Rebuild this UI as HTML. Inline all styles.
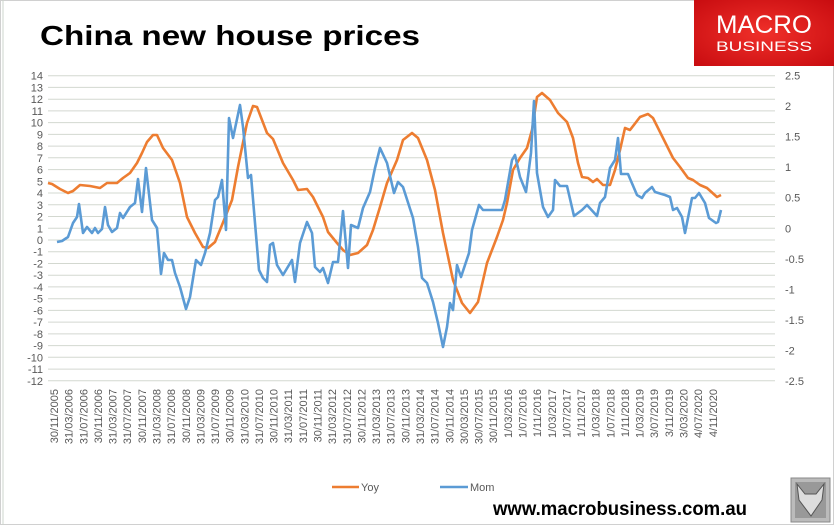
<!DOCTYPE html>
<html><head><meta charset="utf-8"><style>
html,body{margin:0;padding:0;background:#fff}
svg{display:block;font-family:"Liberation Sans",sans-serif}
</style></head><body>
<svg width="834" height="525" viewBox="0 0 834 525" xmlns="http://www.w3.org/2000/svg">
<rect x="0.5" y="0.5" width="833" height="524" fill="#fff" stroke="#d0d0d0"/>
<line x1="3" y1="0" x2="3" y2="525" stroke="#ccd4cc"/>
<text x="40" y="45" font-size="28" font-weight="bold" fill="#000" textLength="380" lengthAdjust="spacingAndGlyphs">China new house prices</text>
<defs><radialGradient id="rg" cx="50%" cy="50%" r="70%"><stop offset="0" stop-color="#f0302a"/><stop offset="1" stop-color="#c80c10"/></radialGradient></defs>
<rect x="694" y="0" width="140" height="66" fill="url(#rg)"/>
<text x="764" y="33" font-size="25" fill="#fff" text-anchor="middle" textLength="96" lengthAdjust="spacingAndGlyphs">MACRO</text>
<text x="764" y="51" font-size="14" fill="#fff" text-anchor="middle" textLength="96" lengthAdjust="spacingAndGlyphs">BUSINESS</text>
<g stroke="#d3d8d0" stroke-width="1">
<line x1="48" x2="775" y1="75.7" y2="75.7"/><line x1="48" x2="775" y1="87.4" y2="87.4"/><line x1="48" x2="775" y1="99.2" y2="99.2"/><line x1="48" x2="775" y1="110.9" y2="110.9"/><line x1="48" x2="775" y1="122.6" y2="122.6"/><line x1="48" x2="775" y1="134.4" y2="134.4"/><line x1="48" x2="775" y1="146.1" y2="146.1"/><line x1="48" x2="775" y1="157.8" y2="157.8"/><line x1="48" x2="775" y1="169.6" y2="169.6"/><line x1="48" x2="775" y1="181.3" y2="181.3"/><line x1="48" x2="775" y1="193" y2="193"/><line x1="48" x2="775" y1="204.8" y2="204.8"/><line x1="48" x2="775" y1="216.5" y2="216.5"/><line x1="48" x2="775" y1="228.3" y2="228.3"/><line x1="48" x2="775" y1="240" y2="240"/><line x1="48" x2="775" y1="251.7" y2="251.7"/><line x1="48" x2="775" y1="263.5" y2="263.5"/><line x1="48" x2="775" y1="275.2" y2="275.2"/><line x1="48" x2="775" y1="286.9" y2="286.9"/><line x1="48" x2="775" y1="298.7" y2="298.7"/><line x1="48" x2="775" y1="310.4" y2="310.4"/><line x1="48" x2="775" y1="322.1" y2="322.1"/><line x1="48" x2="775" y1="333.9" y2="333.9"/><line x1="48" x2="775" y1="345.6" y2="345.6"/><line x1="48" x2="775" y1="357.3" y2="357.3"/><line x1="48" x2="775" y1="369.1" y2="369.1"/><line x1="48" x2="775" y1="380.8" y2="380.8"/>
</g>
<g font-size="11" fill="#595959" text-anchor="end">
<text x="43" y="79.7">14</text><text x="43" y="91.4">13</text><text x="43" y="103.2">12</text><text x="43" y="114.9">11</text><text x="43" y="126.6">10</text><text x="43" y="138.4">9</text><text x="43" y="150.1">8</text><text x="43" y="161.8">7</text><text x="43" y="173.6">6</text><text x="43" y="185.3">5</text><text x="43" y="197">4</text><text x="43" y="208.8">3</text><text x="43" y="220.5">2</text><text x="43" y="232.3">1</text><text x="43" y="244">0</text><text x="43" y="255.7">-1</text><text x="43" y="267.5">-2</text><text x="43" y="279.2">-3</text><text x="43" y="290.9">-4</text><text x="43" y="302.7">-5</text><text x="43" y="314.4">-6</text><text x="43" y="326.1">-7</text><text x="43" y="337.9">-8</text><text x="43" y="349.6">-9</text><text x="43" y="361.3">-10</text><text x="43" y="373.1">-11</text><text x="43" y="384.8">-12</text>
</g>
<g font-size="11" fill="#595959" text-anchor="start">
<text x="785" y="79.7">2.5</text><text x="785" y="110.2">2</text><text x="785" y="140.7">1.5</text><text x="785" y="171.2">1</text><text x="785" y="201.7">0.5</text><text x="785" y="232.3">0</text><text x="785" y="262.8">-0.5</text><text x="785" y="293.3">-1</text><text x="785" y="323.8">-1.5</text><text x="785" y="354.3">-2</text><text x="785" y="384.8">-2.5</text>
</g>
<g font-size="11" fill="#595959" text-anchor="end">
<text transform="translate(58,389) rotate(-90)">30/11/2005</text>
<text transform="translate(72.6,389) rotate(-90)">31/03/2006</text>
<text transform="translate(87.3,389) rotate(-90)">31/07/2006</text>
<text transform="translate(101.9,389) rotate(-90)">30/11/2006</text>
<text transform="translate(116.6,389) rotate(-90)">31/03/2007</text>
<text transform="translate(131.2,389) rotate(-90)">31/07/2007</text>
<text transform="translate(145.8,389) rotate(-90)">30/11/2007</text>
<text transform="translate(160.5,389) rotate(-90)">31/03/2008</text>
<text transform="translate(175.1,389) rotate(-90)">31/07/2008</text>
<text transform="translate(189.8,389) rotate(-90)">30/11/2008</text>
<text transform="translate(204.4,389) rotate(-90)">31/03/2009</text>
<text transform="translate(219,389) rotate(-90)">31/07/2009</text>
<text transform="translate(233.7,389) rotate(-90)">30/11/2009</text>
<text transform="translate(248.3,389) rotate(-90)">31/03/2010</text>
<text transform="translate(263,389) rotate(-90)">31/07/2010</text>
<text transform="translate(277.6,389) rotate(-90)">30/11/2010</text>
<text transform="translate(292.2,389) rotate(-90)">31/03/2011</text>
<text transform="translate(306.9,389) rotate(-90)">31/07/2011</text>
<text transform="translate(321.5,389) rotate(-90)">30/11/2011</text>
<text transform="translate(336.2,389) rotate(-90)">31/03/2012</text>
<text transform="translate(350.8,389) rotate(-90)">31/07/2012</text>
<text transform="translate(365.4,389) rotate(-90)">30/11/2012</text>
<text transform="translate(380.1,389) rotate(-90)">31/03/2013</text>
<text transform="translate(394.7,389) rotate(-90)">31/07/2013</text>
<text transform="translate(409.4,389) rotate(-90)">30/11/2013</text>
<text transform="translate(424,389) rotate(-90)">31/03/2014</text>
<text transform="translate(438.6,389) rotate(-90)">31/07/2014</text>
<text transform="translate(453.3,389) rotate(-90)">30/11/2014</text>
<text transform="translate(467.9,389) rotate(-90)">30/03/2015</text>
<text transform="translate(482.6,389) rotate(-90)">30/07/2015</text>
<text transform="translate(497.2,389) rotate(-90)">30/11/2015</text>
<text transform="translate(511.8,389) rotate(-90)">1/03/2016</text>
<text transform="translate(526.5,389) rotate(-90)">1/07/2016</text>
<text transform="translate(541.1,389) rotate(-90)">1/11/2016</text>
<text transform="translate(555.8,389) rotate(-90)">1/03/2017</text>
<text transform="translate(570.4,389) rotate(-90)">1/07/2017</text>
<text transform="translate(585,389) rotate(-90)">1/11/2017</text>
<text transform="translate(599.7,389) rotate(-90)">1/03/2018</text>
<text transform="translate(614.3,389) rotate(-90)">1/07/2018</text>
<text transform="translate(629,389) rotate(-90)">1/11/2018</text>
<text transform="translate(643.6,389) rotate(-90)">1/03/2019</text>
<text transform="translate(658.2,389) rotate(-90)">3/07/2019</text>
<text transform="translate(672.9,389) rotate(-90)">3/11/2019</text>
<text transform="translate(687.5,389) rotate(-90)">3/03/2020</text>
<text transform="translate(702.2,389) rotate(-90)">4/07/2020</text>
<text transform="translate(716.8,389) rotate(-90)">4/11/2020</text>
</g>
<polyline fill="none" stroke="#ed7d31" stroke-width="2.6" stroke-linejoin="round" points="48,183 52,184 60,189 68,193 73,191 80,185 90,186 100,188 107,183 117,183 123,178 130,173 137,163 142,153 147,142 153,135 157,135 163,148 172,160 180,183 187,217 195,233 203,247 208,248 215,242 222,225 232,200 238,167 247,123 253,106 257,107 267,133 273,139 283,163 293,180 298,190 307,189 313,197 323,217 328,232 337,243 343,250 350,255 358,253 367,245 373,230 380,207 387,183 397,160 403,140 412,133 418,138 427,160 435,190 443,233 453,280 462,303 470,313 478,302 487,263 497,237 503,220 507,203 513,170 520,158 527,148 532,130 537,97 542,93 550,100 558,113 567,122 573,138 578,163 582,177 588,178 593,182 597,179 603,185 610,185 615,170 620,150 625,128 630,130 640,117 648,114 653,118 663,138 673,158 680,167 688,178 693,180 700,185 707,188 717,197 721,195"/>
<polyline fill="none" stroke="#5b9bd5" stroke-width="2.6" stroke-linejoin="round" points="57,242 62,241 68,237 73,223 77,217 79,204 83,233 87,227 92,233 95,228 98,233 102,229 105,207 108,225 112,232 117,228 120,213 123,218 130,207 135,203 138,179 142,212 146,168 152,220 157,228 161,274 164,253 168,260 172,260 175,273 180,287 186,309 190,297 196,260 201,265 205,253 210,233 215,200 218,197 222,180 226,230 229,118 233,138 240,105 243,127 248,178 251,175 255,223 259,270 263,278 267,282 270,245 273,243 277,265 283,275 292,260 295,282 300,243 307,222 312,233 315,267 320,272 323,268 328,283 333,262 338,262 343,211 348,268 351,225 358,228 363,208 370,192 375,168 380,148 387,163 394,193 398,182 403,187 413,218 418,247 422,278 427,283 433,302 438,323 443,347 447,327 450,303 453,310 457,265 461,277 469,253 472,230 479,205 483,210 502,210 505,200 512,160 515,155 520,177 526,192 531,153 534,101 537,173 543,207 548,217 553,210 555,180 560,186 567,186 574,216 582,210 587,205 597,216 600,203 605,197 610,168 615,160 618,138 621,174 628,174 637,195 642,198 645,193 652,187 655,192 665,195 670,197 673,210 677,208 682,217 685,233 692,198 695,198 699,193 705,203 709,218 716,223 718,222 721,210"/>
<line x1="332" y1="487" x2="359" y2="487" stroke="#ed7d31" stroke-width="2.6"/>
<text x="361" y="491" font-size="11" fill="#595959">Yoy</text>
<line x1="440" y1="487" x2="468" y2="487" stroke="#5b9bd5" stroke-width="2.6"/>
<text x="470" y="491" font-size="11" fill="#595959">Mom</text>
<text x="493" y="515" font-size="19" font-weight="bold" fill="#000" textLength="254" lengthAdjust="spacingAndGlyphs">www.macrobusiness.com.au</text>
<rect x="791" y="478" width="39" height="44" fill="#bbb" stroke="#888"/>
<rect x="795" y="482" width="31" height="36" fill="#999"/>
<path d="M797,484 L805,494 L816,494 L824,484 L822,500 L811,516 L799,500 Z" fill="#ddd" stroke="#555"/>
</svg>
</body></html>
